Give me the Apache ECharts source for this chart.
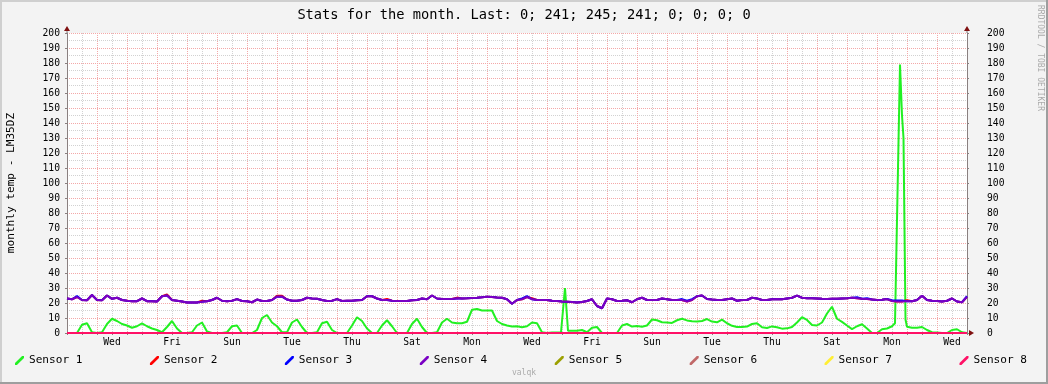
<!DOCTYPE html>
<html><head><meta charset="utf-8">
<script src="https://cdn.jsdelivr.net/npm/echarts@6/dist/echarts.min.js"></script>
<style>html,body{margin:0;padding:0;background:#f3f3f3;}#c{width:1048px;height:384px;}</style>
</head><body><div id="c"></div>
<script>
// ---- data ----
const stepHours = 4; // spacing of the regular samples (hours)
const dayLabels = ['Wed','Fri','Sun','Tue','Thu','Sat','Mon','Wed','Fri','Sun','Tue','Thu','Sat','Mon','Wed'];
const sensorNames = ['Sensor 1','Sensor 2','Sensor 3','Sensor 4','Sensor 5','Sensor 6','Sensor 7','Sensor 8'];
const sensorColors = ['#22f022','#ff0000','#0000ff','#7a00c4','#9ca000','#c06868','#ffee33','#ff1166'];

const sensor1 = [0,0,0,5.5,6.5,0.5,0,0.5,6,9.5,
8,6,5,3.5,4.5,6.4,4.5,3,2,0.5,
4,8,3,0,0,0.5,5,7,1,0,
0,0,0.5,4.5,5,0,0,0,2,10,
12,7,4.5,0.5,0.5,7,9,4,0,0,
0.5,6.5,7.5,2,0,0,0,5,10.5,8,
3,0,0,5,8.5,4.5,0,0,0,6,
9.5,4,0,0,0.5,7,9.5,7,6.5,6.5,
7.5,15.5,16,15,15,15,8,6,5,4.3,
4.5,3.8,4.5,7,6.5,0.5,0,0.3,0.3,null,
null,1.5,1.5,2,0.5,3.5,4,0,0,0,
0,5,6,4.3,4.6,4.2,5,9,8.5,7.2,
7,6.7,8.5,9.5,8.4,7.8,7.6,8,9.3,7.6,
7.1,8.9,6.5,4.8,4,4,4.3,6,6.5,3.8,
3.3,4.4,3.8,2.9,3.1,4,7,10.5,8.7,5.3,
5,7,13,17.5,9.5,7.4,5,2.6,4.5,5.8,
3,0,0,2.5,3,4.5,null,null,4.2,3.5,
3.5,4,2,0.5,0.3,0,0,2,2.5,0.5,
0];
// narrow spikes, as [hour, value]
const sensor1Spikes = [[395.2,0.5],[398.4,30],[400.8,1.5],[662.4,6.5],[666.4,179],[668,145],[669.2,130],[670.8,9]];

const sensor2 = [23,22.5,24,22,21.8,25.3,22,21.8,25,22.8,
23.5,22,21.5,21.2,21.2,23,21.2,21.2,21,24.5,
25.7,22,21.5,21,20.3,20.3,20.4,21.5,21.2,22,
23.5,21.5,21.2,21.5,22.6,21.3,21.2,20.5,22.3,21.3,
21.3,22,24.9,24.8,22.3,21.5,21.5,22,23.5,23,
22.8,22,21.3,21.5,22.6,21.3,21.5,21.5,21.8,22,
24.5,24.5,23,22,22.7,21.5,21.3,21.3,21.3,21.8,
22,23,22.5,25,23,22.7,22.7,22.7,23.6,23,
23.1,23.3,23.5,23.8,24.2,24,23.7,23.5,22.5,19.5,
22,22.5,24,23.2,22,22,22,21.5,21.3,21,
20.9,20.7,20.4,20.6,21.3,22.5,18,16.5,23,22.5,
21.3,21.5,21.8,20.5,22.5,23.5,22,22,22,23,
22.5,22,22,22,21,22,24.5,25,22.7,22.3,
22,22,22.5,23,21.5,22,22,23.5,23,22,
22,22.5,22.7,22.5,23,23.5,24.9,23.5,23.2,23.1,
23,22.8,22.7,22.8,22.8,23,23.2,23.5,23.2,22.8,
22.6,22.3,22,22.2,22.6,21.3,21,21,21.9,21.2,
22,24.9,22,21.5,21.3,21,21.5,23,21,20.5,
24.1];

const sensor3 = [23,22.5,24.6,22,21.8,25.3,22,21.8,25,22.8,
23.5,22,21.5,21.2,21.2,23,21.2,21.2,21,24.5,
25,22,21.5,21,20.3,20.3,20.4,20.8,21.2,22,
23.5,21.5,21.2,21.5,22.6,21.3,21.2,20.5,22.3,21.3,
21.3,22,24.2,24.2,22.3,21.5,21.5,22,23.5,23,
22.8,22,21.3,21.5,22.6,21.3,21.5,21.5,21.8,22,
24.5,24.5,23,22,22,21.5,21.3,21.3,21.3,21.8,
22,23,22.5,25,23,22.7,22.7,22.7,23,23,
23.1,23.3,23.5,23.8,24.2,24,23.7,23.5,22.5,19.5,
22,23.1,24.6,22.5,22,22,22,21.5,21.3,21,
20.9,20.7,20.4,20.6,21.3,22.5,18,16.5,23,22.5,
21.3,21.5,21.8,20.5,22.5,23.5,22,22,22,23,
22.5,22,22,22.6,21.6,22.6,24.5,25,22.7,22.3,
22,22,22.5,23,21.5,22,22,23.5,23,22,
22,22.5,22.7,22.5,23,23.5,24.9,23.5,23.2,23.1,
23,22.8,22.7,22.8,22.8,23,23.2,23.5,23.8,22.8,
23.2,22.3,22,22.2,22.6,21.9,21.6,21.6,21.2,21.2,
22,24.9,22,21.5,21.3,21,21.5,23,21,20.5,
24.5];

const sensor4 = [23,22.5,24,22,21.8,25.3,22,21.8,25,22.8,
23.5,22,21.5,21.2,21.2,23,21.2,21.2,21,24.5,
25,22,21.5,21,20.3,20.3,20.4,20.8,21.2,22,
23.5,21.5,21.2,21.5,22.6,21.3,21.2,20.5,22.3,21.3,
21.3,22,24.2,24.2,22.3,21.5,21.5,22,23.5,23,
22.8,22,21.3,21.5,22.6,21.3,21.5,21.5,21.8,22,
24.5,24.5,23,22,22,21.5,21.3,21.3,21.3,21.8,
22,23,22.5,25,23,22.7,22.7,22.7,23,23,
23.1,23.3,23.5,23.8,24.2,24,23.7,23.5,22.5,19.5,
22,22.5,24,22.5,22,22,22,21.5,21.3,21,
20.9,20.7,20.4,20.6,21.3,22.5,18,16.5,23,22.5,
21.3,21.5,21.8,20.5,22.5,23.5,22,22,22,23,
22.5,22,22,22,21,22,24.5,25,22.7,22.3,
22,22,22.5,23,21.5,22,22,23.5,23,22,
22,22.5,22.7,22.5,23,23.5,24.9,23.5,23.2,23.1,
23,22.8,22.7,22.8,22.8,23,23.2,23.5,23.2,22.8,
22.6,22.3,22,22.2,22.6,21.3,21,21,21.2,21.2,
22,24.9,22,21.5,21.3,21,21.5,23,21,20.5,
24.1];

const flatHours = [0, 720];
const sensor5 = [0, 0];
const sensor6 = [0, 0];
const sensor7 = [0, 0];
const sensor8 = [0, 0];

const titleText = 'Stats for the month. Last: 0; 241; 245; 241; 0; 0; 0; 0';
const yAxisTitle = 'monthly temp - LM35DZ';

// ---- build ----
function regular(vals) {
  const out = [];
  vals.forEach((v, i) => { if (v !== null) out.push([i * stepHours, v]); });
  return out;
}
function flat(vals) { return vals.map((v, i) => [flatHours[i], v]); }
const s1data = regular(sensor1).concat(sensor1Spikes).sort((a, b) => a[0] - b[0]);
const seriesData = [s1data, regular(sensor2), regular(sensor3), regular(sensor4),
  flat(sensor5), flat(sensor6), flat(sensor7), flat(sensor8)];

const mono = 'DejaVu Sans Mono';
const chart = echarts.init(document.getElementById('c'), null, {renderer: 'canvas'});
const legendIcon = 'path://M0,9 L1.9,9 L9,1.9 L9,0 L7.1,0 L0,7.1 Z';

const axisGray = '#8a8080';
const majorGrid = '#f4a8a8';
const minorGrid = '#d2d2d2';
const option = {
  backgroundColor: '#f3f3f3',
  animation: false,
  title: {
    text: titleText, left: 'center', top: 3,
    textStyle: {fontFamily: mono, fontSize: 13.7, fontWeight: 'normal', color: '#000'}
  },
  legend: {
    left: 10, top: 350, itemGap: 67.5, itemWidth: 9, itemHeight: 9,
    textStyle: {fontFamily: mono, fontSize: 11.1, color: '#000'},
    data: sensorNames.map((n, i) => ({name: n, icon: legendIcon, itemStyle: {color: sensorColors[i], borderWidth: 0}})),
    selectedMode: false
  },
  grid: {left: 67, right: 81, top: 33, bottom: 51, show: true, backgroundColor: '#ffffff', borderWidth: 0,
    containLabel: false, outerBoundsMode: 'none'},
  xAxis: {
    type: 'value', min: 0, max: 720, interval: 12,
    axisLine: {show: true, lineStyle: {color: axisGray, width: 1}},
    axisTick: {show: true, length: 2, lineStyle: {color: axisGray}},
    axisLabel: {
      margin: 4, fontFamily: mono, fontSize: 9.7, color: '#000',
      formatter: function (v) {
        const k = (v - 36) / 48;
        return (Number.isInteger(k) && k >= 0 && k < dayLabels.length) ? dayLabels[k] : '';
      }
    },
    splitLine: {show: true, lineStyle: {color: [majorGrid, minorGrid], type: [1, 1], width: 1}}
  },
  yAxis: [{
    type: 'value', min: 0, max: 200, interval: 10, position: 'left',
    name: yAxisTitle, nameLocation: 'middle', nameGap: 50, nameRotate: 90,
    nameTextStyle: {fontFamily: mono, fontSize: 11.1, color: '#000'},
    axisLine: {show: true, lineStyle: {color: axisGray, width: 1}},
    axisTick: {show: true, length: 2, lineStyle: {color: axisGray}},
    axisLabel: {margin: 7, fontFamily: mono, fontSize: 9.7, color: '#000'},
    splitLine: {show: true, lineStyle: {color: majorGrid, type: [1, 1], width: 1}},
    minorTick: {show: false, splitNumber: 2},
    minorSplitLine: {show: true, lineStyle: {color: minorGrid, type: [1, 1], width: 1}}
  }, {
    type: 'value', min: 0, max: 200, interval: 10, position: 'right',
    axisLine: {show: true, lineStyle: {color: axisGray, width: 1}},
    axisTick: {show: true, length: 2, lineStyle: {color: axisGray}},
    axisLabel: {margin: 20, fontFamily: mono, fontSize: 9.7, color: '#000'},
    splitLine: {show: false}
  }],
  series: sensorNames.map((n, i) => ({
    type: 'line', name: n, data: seriesData[i], yAxisIndex: 0,
    showSymbol: false, symbol: 'none', clip: false,
    lineStyle: {width: 2, color: sensorColors[i]},
    itemStyle: {color: sensorColors[i]},
    emphasis: {disabled: true}, silent: true
  })),
  graphic: [
    {type: 'rect', shape: {x: 0, y: 0, width: 1048, height: 2}, style: {fill: '#cfcfcf'}, silent: true},
    {type: 'rect', shape: {x: 0, y: 0, width: 2, height: 384}, style: {fill: '#cfcfcf'}, silent: true},
    {type: 'rect', shape: {x: 0, y: 382, width: 1048, height: 2}, style: {fill: '#9e9e9e'}, silent: true},
    {type: 'rect', shape: {x: 1046, y: 0, width: 2, height: 384}, style: {fill: '#9e9e9e'}, silent: true},
    {type: 'polygon', shape: {points: [[67, 26], [64, 31], [70, 31]]}, style: {fill: '#7f1010'}, silent: true, z: 100},
    {type: 'polygon', shape: {points: [[967, 26], [964, 31], [970, 31]]}, style: {fill: '#7f1010'}, silent: true, z: 100},
    {type: 'polygon', shape: {points: [[974, 333], [969, 330], [969, 336]]}, style: {fill: '#7f1010'}, silent: true, z: 100},
    {type: 'rect', shape: {x: 66.5, y: 31, width: 1, height: 2}, style: {fill: axisGray}, silent: true},
    {type: 'rect', shape: {x: 966.5, y: 31, width: 1, height: 2}, style: {fill: axisGray}, silent: true},
    {type: 'text', x: 524, y: 373, style: {text: 'valqk', fontFamily: mono, fontSize: 8, fill: '#aaaaaa', align: 'center', verticalAlign: 'middle'}, silent: true},
    {type: 'text', x: 1040, y: 5, rotation: -Math.PI / 2, style: {text: 'RRDTOOL / TOBI OETIKER', fontFamily: mono, fontSize: 8, fill: '#aaaaaa', align: 'left', verticalAlign: 'middle'}, silent: true}
  ]
};
chart.setOption(option);
</script>
</body></html>
